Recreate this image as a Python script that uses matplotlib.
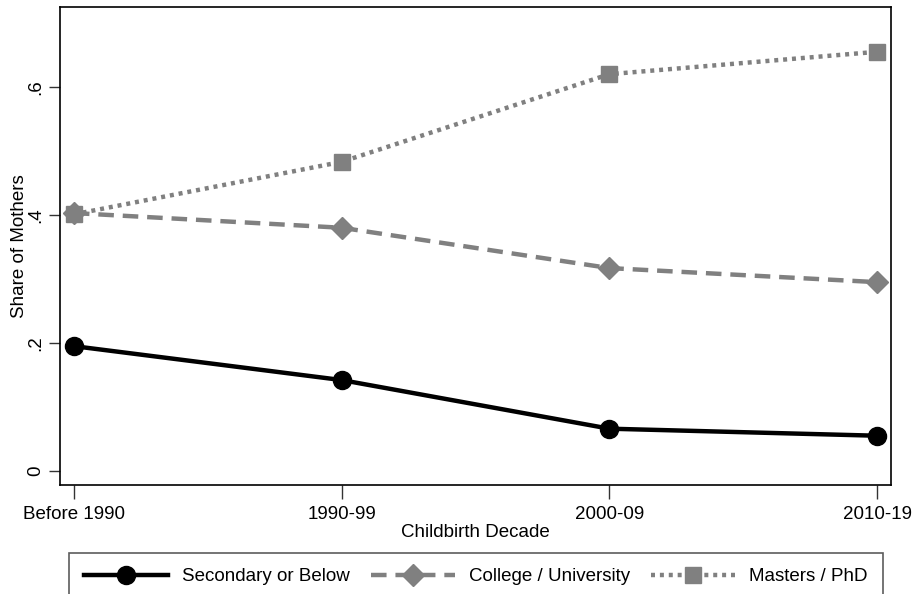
import matplotlib
matplotlib.use("Agg")
from matplotlib import pyplot as plt

decades = ["Before 1990", "1990-99", "2000-09", "2010-19"]
secondary = [0.195, 0.142, 0.066, 0.055]
college = [0.403, 0.380, 0.317, 0.295]
masters = [0.401, 0.483, 0.620, 0.655]

yticks = [0, 0.2, 0.4, 0.6]
ytick_labels = ["0", ".2", ".4", ".6"]

plt.rcParams['font.family'] = ['Liberation Sans', 'DejaVu Sans']

fig = plt.figure(figsize=(9.16, 5.94), dpi=100)
ax = fig.add_axes([60 / 916, 1 - 485 / 594, 831 / 916, 478 / 594])

gray = '#808080'
x = list(range(len(decades)))
ax.plot(x, masters, color=gray, linestyle=(0, (0.9, 1.1)), linewidth=3.2,
        marker='s', markersize=12, label="Masters / PhD")
ax.plot(x, college, color=gray, linestyle=(0, (3.5, 2)), linewidth=3.2,
        marker='D', markersize=11, label="College / University")
ax.plot(x, secondary, color='black', linestyle='-', linewidth=3.2,
        marker='o', markersize=13, label="Secondary or Below")

ax.set_xlim(-0.052, 3.052)
ax.set_ylim(-0.022, 0.725)
ax.set_xticks(x)
ax.set_xticklabels(decades, fontsize=13.5)
ax.set_yticks(yticks)
ax.set_yticklabels(ytick_labels, fontsize=13.5, rotation=90, va='center')
ax.tick_params(axis='x', length=10, width=1, color='#333333', pad=5)
ax.tick_params(axis='y', length=8, width=1, color='#333333', pad=3)
ax.set_xlabel("Childbirth Decade", fontsize=13.5, labelpad=1)
ax.set_ylabel("Share of Mothers", fontsize=13.5, labelpad=0)
for s in ax.spines.values():
    s.set_linewidth(1.2)

handles, labels = ax.get_legend_handles_labels()
order = [2, 1, 0]
leg = fig.legend([handles[i] for i in order], [labels[i] for i in order],
                 loc='upper center', bbox_to_anchor=(476 / 916, 1 - 553 / 594),
                 ncol=3, fontsize=13.5, frameon=True, fancybox=False,
                 handlelength=4.5, handletextpad=0.75, borderpad=0.8,
                 borderaxespad=0, columnspacing=1.1)
leg.get_frame().set_edgecolor('#333333')
leg.get_frame().set_linewidth(1.2)

plt.savefig("out.png", dpi=100)
